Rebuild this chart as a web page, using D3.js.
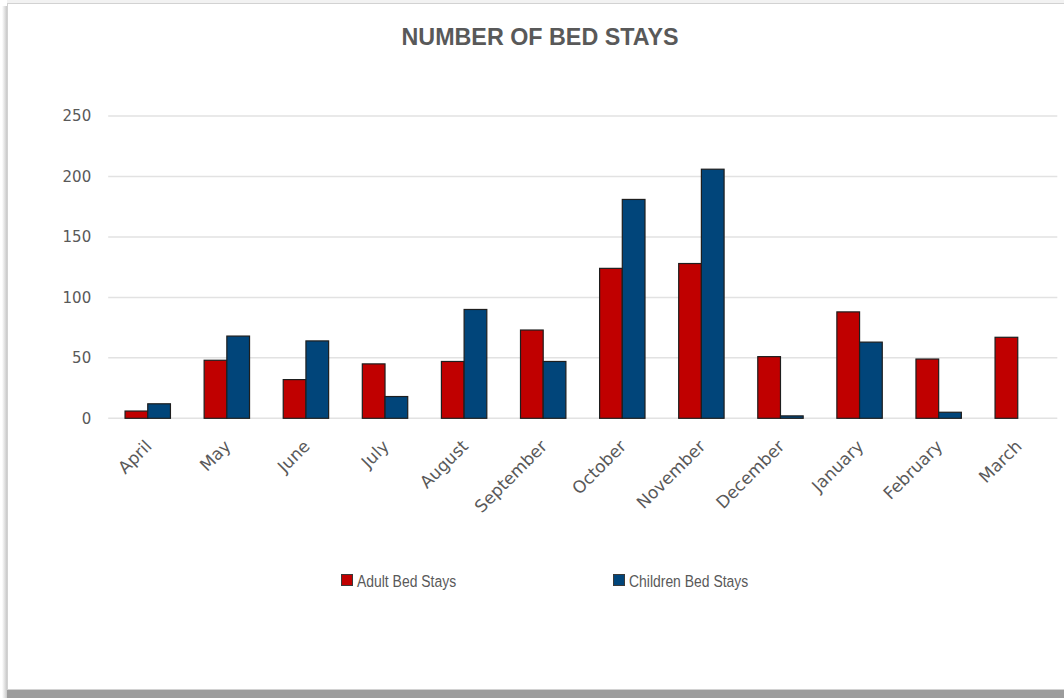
<!DOCTYPE html>
<html>
<head>
<meta charset="utf-8">
<script src="https://cdn.jsdelivr.net/npm/d3@7"></script>
<style>
  html, body { margin: 0; padding: 0; background: #ffffff; }
  svg { display: block; }
</style>
</head>
<body>
<svg id="chart" width="1064" height="698"></svg>
<script>
// Monthly bed stays, April to March
const months = ["April", "May", "June", "July", "August", "September",
                "October", "November", "December", "January", "February", "March"];
const adultStays = [6, 48, 32, 45, 47, 73, 124, 128, 51, 88, 49, 67];
const childStays = [12, 68, 64, 18, 90, 47, 181, 206, 2, 63, 5, 0];
const seriesNames = ["Adult Bed Stays", "Children Bed Stays"];
const seriesColors = ["#c00000", "#01457a"];
const yTicks = [0, 50, 100, 150, 200, 250];

const svg = d3.select("#chart");
const W = 1064, H = 698;

// Card frame with soft shadow on the left and a grey band at the bottom
const defs = svg.append("defs");
const sg = defs.append("linearGradient").attr("id", "leftShade")
  .attr("x1", "0").attr("x2", "1").attr("y1", "0").attr("y2", "0");
sg.append("stop").attr("offset", "0").attr("stop-color", "#ffffff");
sg.append("stop").attr("offset", "1").attr("stop-color", "#c8c8c8");
svg.append("rect").attr("x", 2).attr("y", 6).attr("width", 5).attr("height", H - 6)
  .attr("fill", "url(#leftShade)");
svg.append("rect").attr("x", 7).attr("y", 0).attr("width", W).attr("height", 3)
  .attr("fill", "#f2f2f2");
svg.append("rect").attr("x", 7.5).attr("y", 3.5).attr("width", W).attr("height", 686)
  .attr("fill", "#ffffff").attr("stroke", "#d2d2d2").attr("stroke-width", 1);
svg.append("rect").attr("x", 7).attr("y", 690).attr("width", W).attr("height", 8)
  .attr("fill", "#9c9c9c");

// Plot area
const plot = { left: 108.2, right: 1057.3, top: 116, bottom: 418.3 };

const x = d3.scaleBand().domain(months)
  .range([plot.left, plot.right]).paddingInner(0.426).paddingOuter(0.213);
const x1 = d3.scaleBand().domain(seriesNames).range([0, x.bandwidth()]);
const y = d3.scaleLinear().domain([0, 250]).range([plot.bottom, plot.top]);

// Horizontal gridlines
svg.append("g")
  .selectAll("line").data(yTicks).join("line")
  .attr("x1", plot.left).attr("x2", plot.right)
  .attr("y1", d => y(d)).attr("y2", d => y(d))
  .attr("stroke", "#e2e2e2").attr("stroke-width", 1.5);

// Y axis tick labels
const yAxis = d3.axisLeft(y).tickValues(yTicks).tickSize(0).tickPadding(0);
const gy = svg.append("g").attr("transform", `translate(${plot.left - 17},0)`).call(yAxis);
gy.select(".domain").remove();
gy.selectAll("text")
  .attr("font-family", "DejaVu Sans, sans-serif")
  .attr("font-size", 15).attr("fill", "#595959");

// Bars
const rows = months.map((m, i) => ({ month: m, values: [adultStays[i], childStays[i]] }));
const groups = svg.append("g").selectAll("g").data(rows).join("g")
  .attr("transform", d => `translate(${x(d.month)},0)`);
groups.selectAll("rect")
  .data(d => d.values.map((v, k) => ({ name: seriesNames[k], value: v, k }))
                   .filter(e => e.value > 0))
  .join("rect")
  .attr("x", d => x1(d.name))
  .attr("y", d => y(d.value))
  .attr("width", x1.bandwidth())
  .attr("height", d => y(0) - y(d.value))
  .attr("fill", d => seriesColors[d.k])
  .attr("stroke", "#1e1e1e").attr("stroke-width", 1.2);

// Rotated month labels
const xAxis = d3.axisBottom(x).tickSize(0).tickPadding(0);
const gx = svg.append("g").attr("transform", `translate(0,${plot.bottom})`).call(xAxis);
gx.select(".domain").remove();
gx.selectAll("text")
  .attr("font-family", "DejaVu Sans, sans-serif")
  .attr("font-size", 17).attr("fill", "#595959")
  .attr("text-anchor", "end")
  .attr("dy", null).attr("y", null)
  .attr("transform", "translate(5,29) rotate(-45)");

// Title
svg.append("text")
  .attr("x", 540).attr("y", 45)
  .attr("text-anchor", "middle")
  .attr("font-family", "Liberation Sans, Arial, sans-serif")
  .attr("font-weight", "bold").attr("font-size", 23.3)
  .attr("fill", "#595959")
  .text("NUMBER OF BED STAYS");

// Legend (narrow lettering)
const legendX = [341, 613];
const legend = svg.append("g").selectAll("g").data(seriesNames).join("g")
  .attr("transform", (d, i) => `translate(${legendX[i]},574)`);
legend.append("rect")
  .attr("x", 0.5).attr("y", 0.5).attr("width", 11).attr("height", 11)
  .attr("fill", (d, i) => seriesColors[i])
  .attr("stroke", "#3a3a3a").attr("stroke-width", 1);
legend.append("text")
  .attr("transform", "translate(16,12.5) scale(0.82,1)")
  .attr("font-family", "Liberation Sans, Arial, sans-serif")
  .attr("font-size", 17).attr("fill", "#595959")
  .text(d => d);
</script>
</body>
</html>
